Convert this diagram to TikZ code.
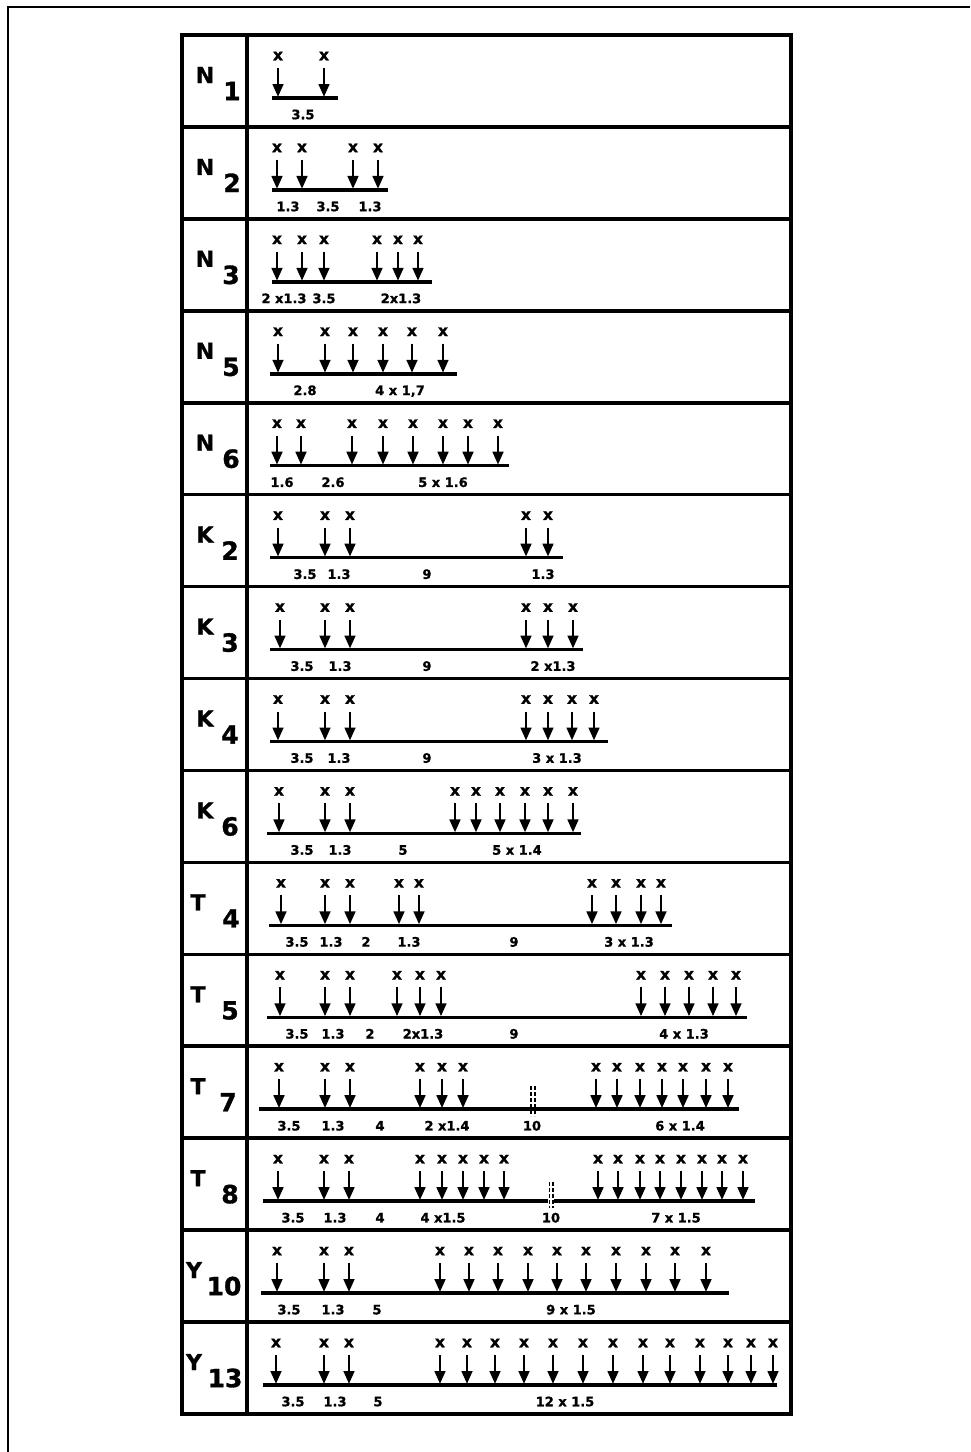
\documentclass[tikz,border=0pt]{standalone}
\usepackage{fontspec}
\setmainfont{DejaVu Sans}[BoldFeatures={FakeBold=1.2}]
\usetikzlibrary{arrows.meta}
\tikzset{
  frame/.style={line width=2.2pt},
  tbl/.style={line width=3.6pt},
  baseln/.style={line width=3.5pt},
  arr/.style={line width=2.9pt, -{Triangle[length=13pt,width=10.5pt]}},
  xmark/.style={font=\fontsize{15.5}{15.5}\selectfont\bfseries, inner sep=0pt, text height=8.5pt, text depth=0pt},
  dimlbl/.style={font=\fontsize{13}{13}\selectfont\bfseries, inner sep=0pt, text height=9.5pt, text depth=0pt},
  rowlet/.style={font=\fontsize{22}{22}\selectfont\bfseries, inner sep=0pt, text height=16pt, text depth=0pt},
  rowsub/.style={font=\fontsize{25}{25}\selectfont\bfseries, inner sep=0pt, text height=18.2pt, text depth=0pt},
  brk/.style={line width=1.4pt, dash pattern=on 4pt off 2pt},
}
\newcommand{\drawrow}[5]{%
  \pgfmathsetmacro{\rowtop}{35+(#1-1)*91.93}%
  \coordinate (bs#1) at (#3,{-(\rowtop+63)});%
  \coordinate (be#1) at (#4,{-(\rowtop+63)});%
  \draw[baseln] (bs#1) -- (be#1);%
  \foreach \xx [count=\kk] in {#2} {%
    \node[xmark] (x#1-\kk) at (\xx,{-(\rowtop+21)}) {x};%
    \coordinate (t#1-\kk) at (\xx,{-(\rowtop+33)});%
    \coordinate (h#1-\kk) at (\xx,{-(\rowtop+62)});%
    \draw[arr] (t#1-\kk) -- (h#1-\kk);%
  }%
  \foreach \lx/\lt [count=\kk] in {#5} {%
    \node[dimlbl] (d#1-\kk) at (\lx,{-(\rowtop+79.5)}) {\lt};%
  }%
}
\newcommand{\rowlabel}[5]{%
  \pgfmathsetmacro{\rowtop}{35+(#1-1)*91.93}%
  \node[rowlet] (let#1) at (#4,{-(\rowtop+40)}) {#2};%
  \node[rowsub] (sub#1) at (#5,{-(\rowtop+56)}) {#3};%
}
\begin{document}
\begin{tikzpicture}[x=1pt,y=1pt]
\useasboundingbox (0,0) rectangle (970,-1452);
% outer frame (top and left)
\draw[frame] (8,-1452) -- (8,-7) -- (970,-7);
% table
\draw[tbl] (182,-35) rectangle (791,-1414);
\draw[tbl] (247,-35) -- (247,-1414);
\foreach \i in {2,...,15} {
  \pgfmathsetmacro{\yy}{35+(\i-1)*91.93}
  \draw[tbl] (182,-\yy) -- (791,-\yy);
}
% row labels
\rowlabel{1}{N}{1}{205}{232}
\rowlabel{2}{N}{2}{205}{232}
\rowlabel{3}{N}{3}{205}{231}
\rowlabel{4}{N}{5}{205}{231}
\rowlabel{5}{N}{6}{205}{231}
\rowlabel{6}{K}{2}{205}{230}
\rowlabel{7}{K}{3}{205}{230}
\rowlabel{8}{K}{4}{205}{230}
\rowlabel{9}{K}{6}{205}{230}
\rowlabel{10}{T}{4}{198}{231}
\rowlabel{11}{T}{5}{198}{230}
\rowlabel{12}{T}{7}{198}{228}
\rowlabel{13}{T}{8}{198}{230}
\rowlabel{14}{Y}{10}{194}{224}
\rowlabel{15}{Y}{13}{194}{225}
% rows
\drawrow{1}{278,324}{272}{338}{303/3.5}
\drawrow{2}{277,302,353,378}{272}{388}{288/1.3,328/3.5,370/1.3}
\drawrow{3}{277,302,324,377,398,418}{272}{432}{284/2 x1.3,324/3.5,401/2x1.3}
\drawrow{4}{278,325,353,383,412,443}{270}{457}{305/2.8,400/{4 x 1,7}}
\drawrow{5}{277,301,352,383,413,443,468,498}{270}{509}{282/1.6,333/2.6,443/5 x 1.6}
\drawrow{6}{278,325,350,526,548}{270}{563}{305/3.5,339/1.3,427/9,543/1.3}
\drawrow{7}{280,325,350,526,548,573}{270}{583}{302/3.5,340/1.3,427/9,553/2 x1.3}
\drawrow{8}{278,325,350,526,548,572,594}{270}{608}{302/3.5,339/1.3,427/9,557/3 x 1.3}
\drawrow{9}{279,325,350,455,476,500,525,548,573}{267}{581}{302/3.5,340/1.3,403/5,517/5 x 1.4}
\drawrow{10}{281,325,350,399,419,592,616,641,661}{269}{672}{297/3.5,331/1.3,366/2,409/1.3,514/9,629/3 x 1.3}
\drawrow{11}{280,325,350,397,420,441,641,665,689,713,736}{267}{747}{297/3.5,333/1.3,370/2,423/2x1.3,514/9,684/4 x 1.3}
\drawrow{12}{279,325,350,420,442,463,596,617,640,662,683,706,728}{259}{739}{289/3.5,333/1.3,380/4,447/2 x1.4,532/10,680/6 x 1.4}
\drawrow{13}{278,324,349,420,442,463,484,504,598,618,640,660,681,702,722,743}{263}{755}{293/3.5,335/1.3,380/4,443/4 x1.5,551/10,676/7 x 1.5}
\drawrow{14}{277,324,349,440,469,498,528,557,586,616,646,675,706}{261}{729}{289/3.5,333/1.3,377/5,571/9 x 1.5}
\drawrow{15}{276,324,349,440,467,495,524,553,583,613,643,670,700,728,751,773}{263}{777}{293/3.5,335/1.3,378/5,565/12 x 1.5}
% break marks T7 (row 12) and T8 (row 13)
\pgfmathsetmacro{\rtw}{35+11*91.93}
\draw[brk] (531,{-(\rtw+40)}) -- (531,{-(\rtw+70)});
\draw[brk] (535,{-(\rtw+40)}) -- (535,{-(\rtw+70)});
\pgfmathsetmacro{\rth}{35+12*91.93}
\fill[white] (548,{-(\rth+60)}) rectangle (554,{-(\rth+66)});
\draw[brk] (549.5,{-(\rth+44)}) -- (549.5,{-(\rth+70)});
\draw[brk] (553,{-(\rth+44)}) -- (553,{-(\rth+70)});
\end{tikzpicture}
\end{document}
